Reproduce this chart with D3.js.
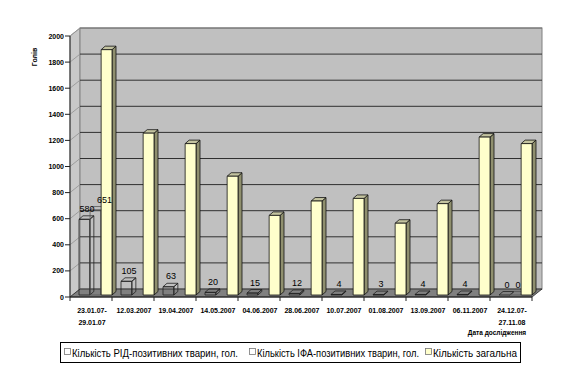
<!DOCTYPE html>
<html><head><meta charset="utf-8">
<script src="https://cdn.jsdelivr.net/npm/d3@7"></script>
<style>body{margin:0;background:#fff}svg{display:block}</style>
</head><body>
<svg id="c" width="575" height="369"></svg>
<script>
const categories = [["23.01.07-","29.01.07"],["12.03.2007"],["19.04.2007"],["14.05.2007"],["04.06.2007"],["28.06.2007"],["10.07.2007"],["01.08.2007"],["13.09.2007"],["06.11.2007"],["24.12.07-","27.11.08"]];
const ridValues = [580,105,63,20,15,12,4,3,4,4,0];
const ifaValues = [651,null,null,null,null,null,null,null,null,null,0];
const totalValues = [1880,1240,1160,910,610,720,740,550,700,1210,1160];
const yTicks = [0,200,400,600,800,1000,1200,1400,1600,1800,2000];
const seriesNames = ["Кількість РІД-позитивних тварин, гол.","Кількість ІФА-позитивних тварин, гол.","Кількість загальна"];
const yTitle = "Голів";
const xTitle = "Дата дослідження";

const svg = d3.select("#c");
const DX = 10, DY = -8;             // floor depth
const fx0 = 70, fx1 = 532, fy0 = 297, fyTop = 36;
const keys = categories.map((c,i)=>i);
const x = d3.scaleBand().domain(keys).range([fx0,fx1]);
const sub = d3.scaleBand().domain(["rid","ifa","total"]).range([7,40]).paddingInner(0.02);
const yF = d3.scaleLinear().domain([0,2000]).range([fy0,fyTop]);
const yB = d3.scaleLinear().domain([0,2000]).range([fy0+DY,fyTop+DY]);

// left wall
svg.append("path").attr("d",`M${fx0},${yF(0)}L${fx0+DX},${yB(0)}L${fx0+DX},${yB(2000)}L${fx0},${yF(2000)}Z`)
  .attr("fill","#c8c8c8").attr("stroke","#888").attr("stroke-width",0.8);
// back wall
svg.append("rect").attr("x",fx0+DX).attr("y",yB(2000)).attr("width",fx1-fx0).attr("height",yB(0)-yB(2000))
  .attr("fill","#c0c0c0").attr("stroke","#808080").attr("stroke-width",1);
// gridlines
yTicks.forEach(v=>{
  if(v===0) return;
  svg.append("line").attr("x1",fx0).attr("y1",yF(v)).attr("x2",fx0+DX).attr("y2",yB(v))
    .attr("stroke","#909090").attr("stroke-width",0.8);
  svg.append("line").attr("x1",fx0+DX).attr("y1",yB(v)).attr("x2",fx1+DX).attr("y2",yB(v))
    .attr("stroke",v===2000?"#707070":"#303030").attr("stroke-width",1);
});
// floor
svg.append("path").attr("d",`M${fx0},${fy0}L${fx1},${fy0}L${fx1+DX},${fy0+DY}L${fx0+DX},${fy0+DY}Z`)
  .attr("fill","#808080").attr("stroke","#222").attr("stroke-width",0.8);

// y axis
svg.append("line").attr("x1",fx0).attr("y1",yF(0)).attr("x2",fx0).attr("y2",yF(2000)).attr("stroke","#222");
const yAx = svg.append("g");
yTicks.forEach(v=>{
  yAx.append("line").attr("x1",fx0-5).attr("x2",fx0).attr("y1",yF(v)).attr("y2",yF(v)).attr("stroke","#222");
  yAx.append("text").attr("x",fx0-6).attr("y",yF(v)+2.5).attr("text-anchor","end")
    .attr("font-family","Liberation Sans").attr("font-weight","bold").attr("font-size",7).text(v);
});
// x axis
svg.append("line").attr("x1",fx0).attr("x2",fx1).attr("y1",fy0).attr("y2",fy0).attr("stroke","#222");
keys.forEach(i=>{
  svg.append("line").attr("x1",x(i)).attr("x2",x(i)).attr("y1",fy0).attr("y2",fy0+4).attr("stroke","#222");
  const t = svg.append("text").attr("text-anchor","middle").attr("font-family","Liberation Sans")
    .attr("font-weight","bold").attr("font-size",7);
  categories[i].forEach((line,j)=>{
    t.append("tspan").attr("x",x(i)+x.bandwidth()/2+1).attr("y",313+j*12).text(line);
  });
});
svg.append("line").attr("x1",fx1).attr("x2",fx1).attr("y1",fy0).attr("y2",fy0+4).attr("stroke","#222");

// bars
const bd = {x0:2, y0:-2, dx:4, dy:-3.5};
const w = sub.bandwidth();
const styles = {
  rid:{front:"none",side:"none",top:"none",stroke:"#222"},
  ifa:{front:"none",side:"none",top:"none",stroke:"#555"},
  total:{front:"#ffffcc",side:"#8f8f6e",top:"#c4c4a0",stroke:"#111"}
};
const labels=[];
function bar(i,key,v){
  if(v===null) return;
  const s = styles[key];
  const xl = x(i)+sub(key)+bd.x0, xr = xl+w;
  const yb = yF(0)+bd.y0, yt = yF(v)+bd.y0;
  const g = svg.append("g").attr("stroke",s.stroke).attr("stroke-width",0.8).attr("stroke-linejoin","round");
  g.append("path").attr("d",`M${xr},${yb}L${xr+bd.dx},${yb+bd.dy}L${xr+bd.dx},${yt+bd.dy}L${xr},${yt}Z`).attr("fill",s.side);
  g.append("path").attr("d",`M${xl},${yt}L${xr},${yt}L${xr+bd.dx},${yt+bd.dy}L${xl+bd.dx},${yt+bd.dy}Z`).attr("fill",s.top);
  g.append("rect").attr("x",xl).attr("y",yt).attr("width",w).attr("height",Math.max(0,yb-yt)).attr("fill",s.front);
  if(key!=="total") labels.push({x:(xl+xr)/2+bd.dx-1.5, y:yt+bd.dy-4, t:String(v)});
}
keys.forEach(i=>{
  bar(i,"rid",ridValues[i]);
  bar(i,"ifa",ifaValues[i]);
  bar(i,"total",totalValues[i]);
});
// labels with simple overlap avoidance
const lw = t=>t.length*5.2;
labels.forEach((l,k)=>{
  if(k>0){
    const p = labels[k-1];
    const ov = (p.x+lw(p.t)/2+2) - (l.x-lw(l.t)/2);
    if(ov>0 && Math.abs(p.y-l.y)<10) l.x += ov;
  }
  svg.append("text").attr("x",l.x).attr("y",l.y).attr("text-anchor","middle")
    .attr("font-family","Liberation Sans").attr("font-size",9).attr("fill","#000").text(l.t);
});

// titles
svg.append("text").attr("transform","translate(37,57) rotate(-90)").attr("text-anchor","middle")
  .attr("font-family","Liberation Sans").attr("font-weight","bold").attr("font-size",7).text(yTitle);
svg.append("text").attr("x",497).attr("y",335).attr("text-anchor","middle")
  .attr("font-family","Liberation Sans").attr("font-weight","bold").attr("font-size",6.5).text(xTitle);

// legend
svg.append("rect").attr("x",60.5).attr("y",342.5).attr("width",460).attr("height",20)
  .attr("fill","#fff").attr("stroke","#000").attr("stroke-width",1);
const legItems = [
  {sq:64, tx:72, tw:166, fill:"#fff"},
  {sq:249, tx:257, tw:162, fill:"#fff"},
  {sq:425, tx:433, tw:84, fill:"#ffffcc"}
];
legItems.forEach((it,k)=>{
  svg.append("rect").attr("x",it.sq+0.5).attr("y",348.5).attr("width",6).attr("height",6)
    .attr("fill",it.fill).attr("stroke","#777").attr("stroke-width",0.8);
  svg.append("text").attr("x",it.tx).attr("y",356.5).attr("font-family","Liberation Sans").attr("font-size",10.5)
    .attr("textLength",it.tw).attr("lengthAdjust","spacingAndGlyphs").text(seriesNames[k]);
});
</script>
</body></html>
